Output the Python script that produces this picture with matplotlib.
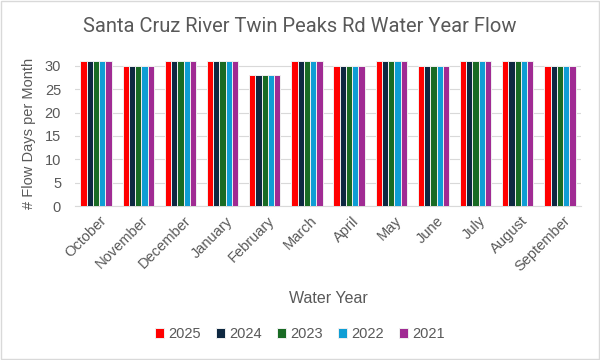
import matplotlib
matplotlib.use("Agg")
import matplotlib.pyplot as plt
import matplotlib.transforms as mtransforms
import numpy as np

months = ["October", "November", "December", "January", "February", "March",
          "April", "May", "June", "July", "August", "September"]
series_names = ["2025", "2024", "2023", "2022", "2021"]
v2025 = [31, 30, 31, 31, 28, 31, 30, 31, 30, 31, 31, 30]
v2024 = [31, 30, 31, 31, 28, 31, 30, 31, 30, 31, 31, 30]
v2023 = [31, 30, 31, 31, 28, 31, 30, 31, 30, 31, 31, 30]
v2022 = [31, 30, 31, 31, 28, 31, 30, 31, 30, 31, 31, 30]
v2021 = [31, 30, 31, 31, 28, 31, 30, 31, 30, 31, 31, 30]
colors = ["#FF0000", "#0E2841", "#196B24", "#0F9ED5", "#A02B93"]
values = [v2025, v2024, v2023, v2022, v2021]

plt.rcParams['font.family'] = ['Liberation Sans', 'DejaVu Sans']

fig = plt.figure(figsize=(6, 3.6), dpi=100)
fig.patch.set_facecolor("white")
ax = fig.add_axes([75/600, 1-206/360, 506/600, (206-61.3)/360])

x = np.arange(len(months))
n = len(series_names)
bw = 0.74 / n
for i, (name, vals, c) in enumerate(zip(series_names, values, colors)):
    ax.bar(x + (i - (n-1)/2) * bw, vals, width=bw, color=c, label=name,
           edgecolor="#f0f0f0", linewidth=0.7, zorder=3)

ax.set_xlim(-0.5, len(months) - 0.5)
ax.set_ylim(0, 31)
ax.set_yticks(range(0, 31, 5))
ax.grid(axis="y", color="#d9d9d9", linewidth=0.8, zorder=0)
for s in ["top", "right", "left"]:
    ax.spines[s].set_visible(False)
ax.spines["bottom"].set_color("#d9d9d9")
ax.tick_params(axis="both", length=0, colors="#595959", labelsize=10.5)
ax.tick_params(axis="y", pad=10)
ax.set_xticks(x)
ax.set_xticklabels(months, rotation=45, ha="right", rotation_mode="anchor")
offset = mtransforms.ScaledTranslation(3/100, -3/100, fig.dpi_scale_trans)
for lbl in ax.get_xticklabels():
    lbl.set_transform(lbl.get_transform() + offset)
ax.set_ylabel("# Flow Days per Month", color="#595959", fontsize=10.5, labelpad=6)
ax.set_xlabel("Water Year", color="#595959", fontsize=11.5, labelpad=12)

fig.text(0.5, 1-27/360, "Santa Cruz River Twin Peaks Rd Water Year Flow",
         ha="center", va="center", fontsize=14.5, color="#595959",
         family=["Roboto", "DejaVu Sans"])

leg = fig.legend(loc="center", bbox_to_anchor=(0.5, 1-334/360), ncol=5,
                 frameon=False, fontsize=10.5, handlelength=0.65, handleheight=0.65,
                 columnspacing=1.0, handletextpad=0.3)
for t in leg.get_texts():
    t.set_color("#595959")

fig.add_artist(plt.Rectangle((0.001, 0.002), 0.997, 0.995, transform=fig.transFigure,
                             fill=False, edgecolor="#d9d9d9", linewidth=1))
fig.savefig("out.png", dpi=100, facecolor="white")
